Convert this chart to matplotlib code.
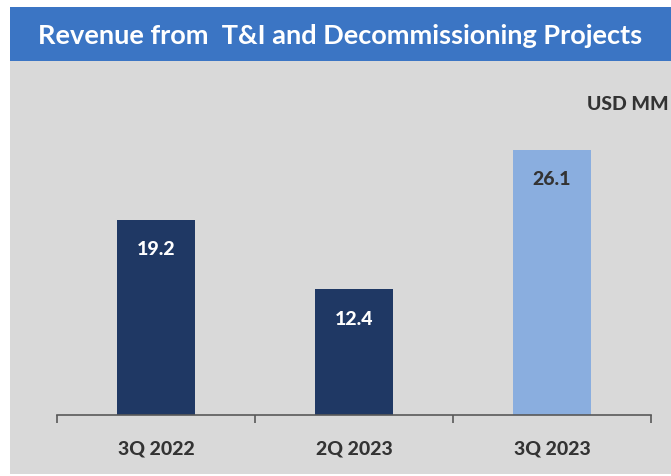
import matplotlib.pyplot as plt
from matplotlib.patches import Rectangle

# datos del grafico
categories = ["3Q 2022", "2Q 2023", "3Q 2023"]
revenue = [19.2, 12.4, 26.1]
bar_colors = ["#1f3864", "#1f3864", "#8aaedf"]
label_colors = ["white", "white", "#333333"]

plt.rcParams['font.family'] = ['Lato', 'DejaVu Sans']

W, H = 671, 477
fig = plt.figure(figsize=(W / 100, H / 100), dpi=100)
fig.patch.set_facecolor("white")

# fondo gris y barra de titulo
fig.patches.append(Rectangle((10 / W, 2 / H), 1 - 10 / W, (415 - 2) / H,
                             transform=fig.transFigure, facecolor="#d9d9d9",
                             edgecolor="none", zorder=-5))
fig.patches.append(Rectangle((10 / W, (H - 62) / H), 1 - 10 / W, 54 / H,
                             transform=fig.transFigure, facecolor="#3b75c4",
                             edgecolor="none", zorder=-5))
fig.text((10 + W) / 2 / W, (H - 36) / H,
         "Revenue from  T&I and Decommissioning Projects",
         color="white", fontsize=19.5, fontweight="bold",
         ha="center", va="center")
fig.text(669 / W, (H - 105) / H, "USD MM", color="#333333",
         fontsize=14, fontweight="black", ha="right", va="center")

ax = fig.add_axes([57 / W, (H - 416) / H, (651 - 57) / W, (416 - 62) / H])
ax.set_zorder(2)
ax.set_facecolor("none")
x = range(len(categories))
bars = ax.bar(x, revenue, width=0.39, color=bar_colors, zorder=2)
ax.set_xlim(-0.5, 2.5)
ax.set_ylim(0, 34.8)

for b, v, c in zip(bars, revenue, label_colors):
    ax.annotate(f"{v}", (b.get_x() + b.get_width() / 2, v),
                xytext=(0, -21), textcoords="offset points",
                ha="center", va="center", color=c,
                fontsize=14, fontweight="black")

for s in ["top", "right", "left"]:
    ax.spines[s].set_visible(False)
ax.spines["bottom"].set_color("#595959")
ax.spines["bottom"].set_linewidth(1.2)
ax.set_yticks([])

# ticks en los limites de categoria, etiquetas centradas
ax.set_xticks([-0.5, 0.5, 1.5, 2.5])
ax.set_xticklabels([])
ax.tick_params(axis="x", length=6, width=1.2, color="#595959", direction="out")
ax.set_xticks(list(x), minor=True)
ax.set_xticklabels(categories, minor=True, fontsize=14, fontweight="black",
                   color="#333333")
ax.tick_params(axis="x", which="minor", length=0, pad=18)

fig.savefig("out.png", dpi=100)
